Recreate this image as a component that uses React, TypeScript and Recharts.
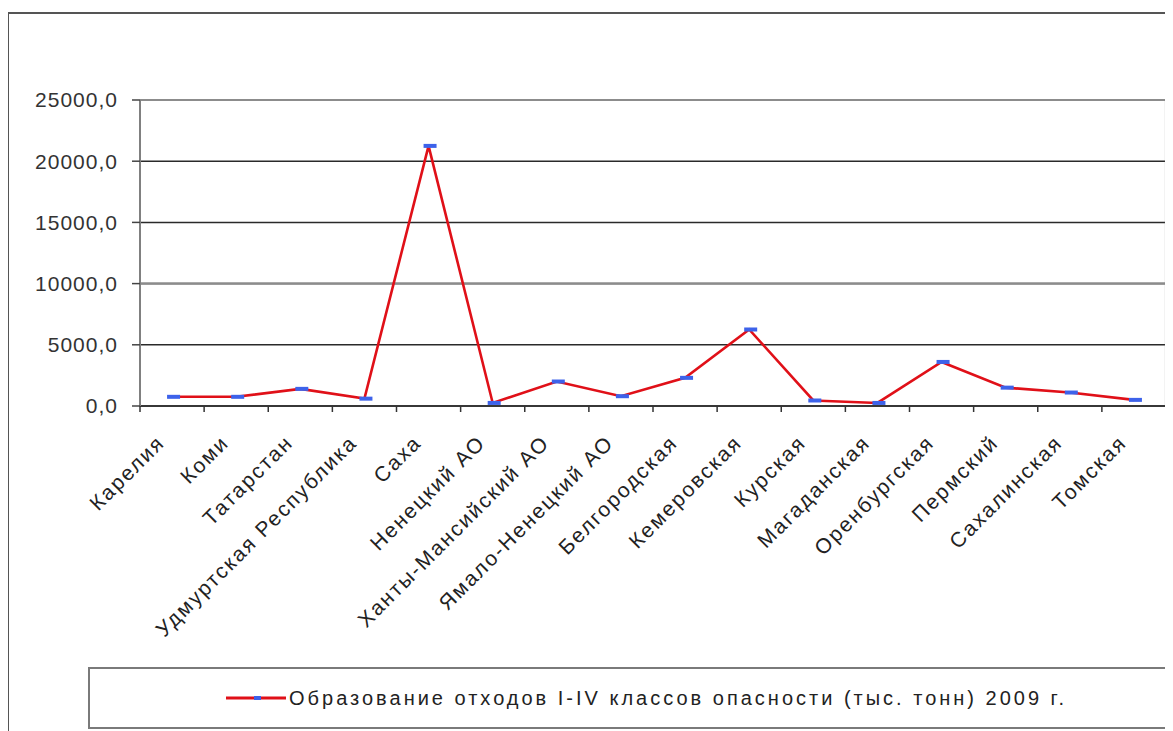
import React from 'react';
import { LineChart, Line, XAxis, YAxis, CartesianGrid, Legend } from 'recharts';

// Regions and the amount of hazard class I–IV waste generated in 2009 (thousand tonnes)
const regions: string[] = [
  'Карелия',
  'Коми',
  'Татарстан',
  'Удмуртская Республика',
  'Саха',
  'Ненецкий АО',
  'Ханты-Мансийский АО',
  'Ямало-Ненецкий АО',
  'Белгородская',
  'Кемеровская',
  'Курская',
  'Магаданская',
  'Оренбургская',
  'Пермский',
  'Сахалинская',
  'Томская',
];

const waste2009: number[] = [
  750, 750, 1400, 600, 21250, 250, 2000, 800, 2300, 6250, 450, 250, 3600, 1500, 1100, 500,
];

const yTicks: number[] = [0, 5000, 10000, 15000, 20000, 25000];
const Y_MAX = 25000;
const MID_LINE = 10000;

const seriesName = 'Образование отходов I-IV классов опасности (тыс. тонн) 2009 г.';

const data = regions.map((name, i) => ({ name, value: waste2009[i] }));

const FONT = '"Liberation Sans", Arial, sans-serif';
const CHART_W = 1164;
const CHART_H = 717;
const MARGIN = { top: 86, right: 7, left: 0, bottom: 0 };
const Y_AXIS_W = 131;
const X_AXIS_H = 325;
const PLOT_W = CHART_W - MARGIN.left - MARGIN.right - Y_AXIS_W;
const BAND = PLOT_W / regions.length;

const formatValue = (v: number) => v.toFixed(1).replace('.', ',');

// Category label rotated 45°, with tick marks on the category boundaries
const RegionTick = (props: any) => {
  const { x, y, payload, index } = props;
  const i = typeof index === 'number' ? index : payload.index;
  const half = BAND / 2;
  const tx = x - 6;
  const ty = y + 38;
  return (
    <g>
      <line x1={x - half} y1={y} x2={x - half} y2={y + 6} stroke="#333" strokeWidth={1.5} />
      {i === regions.length - 1 && (
        <line x1={x + half} y1={y} x2={x + half} y2={y + 6} stroke="#333" strokeWidth={1.5} />
      )}
      <text
        x={tx}
        y={ty}
        textAnchor="end"
        transform={`rotate(-45 ${tx} ${ty})`}
        fontFamily={FONT}
        fontSize={21}
        letterSpacing={2}
        fill="#222"
      >
        {payload.value}
      </text>
    </g>
  );
};

// Dash-shaped point marker
const DashMarker = (props: any) => {
  const { cx, cy } = props;
  if (cx == null || cy == null) return null;
  return <rect x={cx - 5} y={cy - 2} width={13} height={4} fill="#3d62ea" />;
};

const LegendBox = () => (
  <div
    style={{
      boxSizing: 'border-box',
      width: '100%',
      height: '100%',
      border: '2px solid #7a7a7a',
      background: '#fff',
      display: 'flex',
      alignItems: 'center',
      paddingLeft: 136,
      fontFamily: FONT,
      fontSize: 20,
      color: '#222',
      letterSpacing: 3,
      whiteSpace: 'nowrap',
    }}
  >
    <svg width={60} height={8} style={{ flex: 'none' }}>
      <line x1={0} y1={4} x2={60} y2={4} stroke="#e01018" strokeWidth={3} />
      <rect x={28} y={2} width={7} height={4} fill="#3d62ea" />
    </svg>
    <span style={{ marginLeft: 3 }}>{seriesName}</span>
  </div>
);

export default function App() {
  return (
    <div
      style={{
        width: 1166,
        height: 719,
        marginLeft: -1,
        marginTop: 4,
        borderTop: '2px solid #555',
        borderLeft: '2px solid #555',
        boxSizing: 'border-box',
        background: '#fff',
      }}
    >
      <LineChart width={CHART_W} height={CHART_H} data={data} margin={MARGIN}>
        <CartesianGrid horizontal vertical={false} stroke="#2a2a2a" strokeWidth={1.5} />
        {/* plot-area frame (top and right) and the lighter 10000 line */}
        <CartesianGrid
          horizontal
          vertical
          horizontalCoordinatesGenerator={({ offset }: any) => [
            offset.top,
            offset.top + offset.height * (1 - MID_LINE / Y_MAX),
          ]}
          verticalCoordinatesGenerator={({ offset }: any) => [offset.left + offset.width]}
          stroke="#8c8c8c"
          strokeWidth={2.2}
        />
        <XAxis
          dataKey="name"
          type="category"
          interval={0}
          height={X_AXIS_H}
          padding={{ left: BAND / 2, right: BAND / 2 }}
          tickLine={false}
          tickSize={0}
          tickMargin={0}
          axisLine={{ stroke: '#2a2a2a', strokeWidth: 1.5 }}
          tick={<RegionTick />}
        />
        <YAxis
          width={Y_AXIS_W}
          domain={[0, Y_MAX]}
          ticks={yTicks}
          interval={0}
          tickFormatter={formatValue}
          tickSize={8}
          tickMargin={14}
          tickLine={{ stroke: '#444', strokeWidth: 1.5 }}
          axisLine={{ stroke: '#808080', strokeWidth: 2 }}
          tick={{ fontFamily: FONT, fontSize: 21, fill: '#333', letterSpacing: 1 }}
        />
        <Legend
          layout="horizontal"
          verticalAlign="middle"
          align="center"
          wrapperStyle={{ left: 79, top: 653, width: 1083, height: 62 }}
          content={() => <LegendBox />}
        />
        {/* markers sit beneath the line */}
        <Line
          dataKey="value"
          name={seriesName}
          stroke="none"
          dot={<DashMarker />}
          activeDot={false}
          isAnimationActive={false}
          legendType="none"
        />
        <Line
          dataKey="value"
          name={seriesName}
          type="linear"
          stroke="#e01018"
          strokeWidth={2.6}
          dot={false}
          activeDot={false}
          isAnimationActive={false}
        />
      </LineChart>
    </div>
  );
}
